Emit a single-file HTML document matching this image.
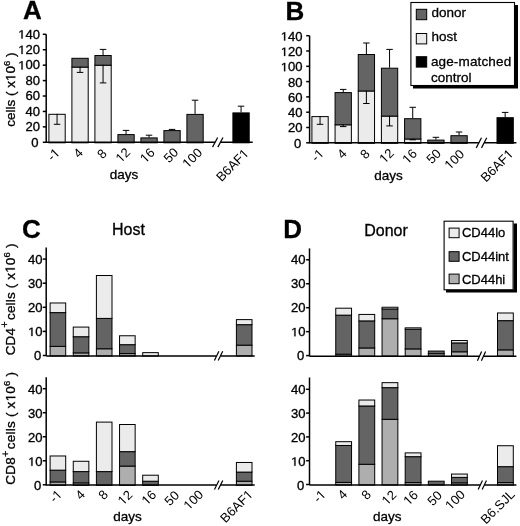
<!DOCTYPE html>
<html><head><meta charset="utf-8"><title>Figure</title>
<style>
html,body{margin:0;padding:0;background:#fff;}
body{width:520px;height:526px;overflow:hidden;}
svg{display:block;font-family:"Liberation Sans", sans-serif;filter:grayscale(1);}
svg text{fill:#000;stroke:#000;stroke-width:0.3px;}
svg tspan.o1{fill:none;stroke:none;}
svg path.p1{fill:#000;stroke:#000;stroke-width:0.3px;vector-effect:non-scaling-stroke;}
svg path.p1n{fill:#000;stroke:none;}
</style></head>
<body>
<svg width="520" height="526" viewBox="0 0 520 526">
<rect x="0" y="0" width="520" height="526" fill="#fff"/>
<text x="23" y="19" font-size="26" text-anchor="start" font-weight="bold">A</text>
<line x1="46.2" y1="34.3" x2="46.2" y2="142.9" stroke="#000" stroke-width="1.5"/>
<line x1="42.8" y1="142.3" x2="46.2" y2="142.3" stroke="#000" stroke-width="1.5"/>
<text transform="translate(38.6 146.6) scale(1.09 1)" x="0" y="0" font-size="12" text-anchor="end">0</text>
<line x1="42.8" y1="126.87" x2="46.2" y2="126.87" stroke="#000" stroke-width="1.5"/>
<text transform="translate(40 131.17) scale(1.09 1)" x="0" y="0" font-size="12" text-anchor="end">20</text>
<line x1="42.8" y1="111.44" x2="46.2" y2="111.44" stroke="#000" stroke-width="1.5"/>
<text transform="translate(40 115.74) scale(1.09 1)" x="0" y="0" font-size="12" text-anchor="end">40</text>
<line x1="42.8" y1="96.01" x2="46.2" y2="96.01" stroke="#000" stroke-width="1.5"/>
<text transform="translate(40 100.31) scale(1.09 1)" x="0" y="0" font-size="12" text-anchor="end">60</text>
<line x1="42.8" y1="80.59" x2="46.2" y2="80.59" stroke="#000" stroke-width="1.5"/>
<text transform="translate(40 84.89) scale(1.09 1)" x="0" y="0" font-size="12" text-anchor="end">80</text>
<line x1="42.8" y1="65.16" x2="46.2" y2="65.16" stroke="#000" stroke-width="1.5"/>
<text transform="translate(40 69.46) scale(1.09 1)" x="0" y="0" font-size="12" text-anchor="end"><tspan class="o1" id="o1_1">1</tspan>00</text><path class="p1" transform="translate(40 69.46) scale(1.09 1) translate(-20.03 0) scale(0.005859 -0.005859)" d="M515 0V1237L197 1010V1180L530 1409H696V0Z"/>
<line x1="42.8" y1="49.73" x2="46.2" y2="49.73" stroke="#000" stroke-width="1.5"/>
<text transform="translate(40 54.03) scale(1.09 1)" x="0" y="0" font-size="12" text-anchor="end"><tspan class="o1" id="o1_2">1</tspan>20</text><path class="p1" transform="translate(40 54.03) scale(1.09 1) translate(-20.03 0) scale(0.005859 -0.005859)" d="M515 0V1237L197 1010V1180L530 1409H696V0Z"/>
<line x1="42.8" y1="34.3" x2="46.2" y2="34.3" stroke="#000" stroke-width="1.5"/>
<text transform="translate(40 38.6) scale(1.09 1)" x="0" y="0" font-size="12" text-anchor="end"><tspan class="o1" id="o1_3">1</tspan>40</text><path class="p1" transform="translate(40 38.6) scale(1.09 1) translate(-20.03 0) scale(0.005859 -0.005859)" d="M515 0V1237L197 1010V1180L530 1409H696V0Z"/>
<rect x="48.9" y="114.3" width="16.3" height="28.5" fill="#ebebeb" stroke="#000" stroke-width="1"/>
<line x1="57.05" y1="113.8" x2="57.05" y2="124.3" stroke="#000" stroke-width="1"/>
<line x1="53.8" y1="124.3" x2="60.3" y2="124.3" stroke="#000" stroke-width="1"/>
<rect x="71.9" y="67.1" width="16.3" height="75.7" fill="#ebebeb" stroke="#000" stroke-width="1"/>
<rect x="71.9" y="58.3" width="16.3" height="8.8" fill="#646464" stroke="#000" stroke-width="1"/>
<line x1="80.05" y1="66.6" x2="80.05" y2="72.4" stroke="#000" stroke-width="1"/>
<line x1="76.8" y1="72.4" x2="83.3" y2="72.4" stroke="#000" stroke-width="1"/>
<rect x="94.9" y="65.2" width="16.3" height="77.6" fill="#ebebeb" stroke="#000" stroke-width="1"/>
<rect x="94.9" y="55.5" width="16.3" height="9.7" fill="#646464" stroke="#000" stroke-width="1"/>
<line x1="103.05" y1="55" x2="103.05" y2="49.4" stroke="#000" stroke-width="1"/>
<line x1="99.8" y1="49.4" x2="106.3" y2="49.4" stroke="#000" stroke-width="1"/>
<line x1="103.05" y1="64.7" x2="103.05" y2="82.9" stroke="#000" stroke-width="1"/>
<line x1="99.8" y1="82.9" x2="106.3" y2="82.9" stroke="#000" stroke-width="1"/>
<rect x="117.9" y="134.6" width="16.3" height="8.2" fill="#646464" stroke="#000" stroke-width="1"/>
<line x1="126.05" y1="134.1" x2="126.05" y2="130.4" stroke="#000" stroke-width="1"/>
<line x1="122.8" y1="130.4" x2="129.3" y2="130.4" stroke="#000" stroke-width="1"/>
<rect x="140.9" y="137.9" width="16.3" height="4.9" fill="#646464" stroke="#000" stroke-width="1"/>
<line x1="149.05" y1="137.4" x2="149.05" y2="135.2" stroke="#000" stroke-width="1"/>
<line x1="145.8" y1="135.2" x2="152.3" y2="135.2" stroke="#000" stroke-width="1"/>
<rect x="163.9" y="130.6" width="16.3" height="12.2" fill="#646464" stroke="#000" stroke-width="1"/>
<line x1="172.05" y1="130.1" x2="172.05" y2="129.4" stroke="#000" stroke-width="1"/>
<line x1="168.8" y1="129.4" x2="175.3" y2="129.4" stroke="#000" stroke-width="1"/>
<rect x="186.9" y="114.4" width="16.3" height="28.4" fill="#646464" stroke="#000" stroke-width="1"/>
<line x1="195.05" y1="113.9" x2="195.05" y2="100.2" stroke="#000" stroke-width="1"/>
<line x1="191.8" y1="100.2" x2="198.3" y2="100.2" stroke="#000" stroke-width="1"/>
<rect x="232.9" y="112.9" width="16.3" height="29.9" fill="#000" stroke="#000" stroke-width="1"/>
<line x1="241.05" y1="112.4" x2="241.05" y2="106.2" stroke="#000" stroke-width="1"/>
<line x1="237.8" y1="106.2" x2="244.3" y2="106.2" stroke="#000" stroke-width="1"/>
<line x1="46.2" y1="142.3" x2="215.1" y2="142.3" stroke="#000" stroke-width="1.5"/>
<line x1="220.4" y1="142.3" x2="252.7" y2="142.3" stroke="#000" stroke-width="1.5"/>
<line x1="212.55" y1="147.15" x2="217.65" y2="137.45" stroke="#000" stroke-width="1.2"/>
<line x1="217.85" y1="147.15" x2="222.95" y2="137.45" stroke="#000" stroke-width="1.2"/>
<text class="lp1" transform="translate(53.35 154.45) rotate(-45)" x="0" y="4.65" font-size="13" text-anchor="middle" style="stroke:none">-<tspan class="o1" id="o1_4">1</tspan></text><path class="p1n" transform="translate(53.35 154.45) rotate(-45) translate(-1.45 4.65) scale(0.006348 -0.006348)" d="M515 0V1237L197 1010V1180L530 1409H696V0Z"/>
<text class="lp0" transform="translate(78.03 152.8) rotate(-45)" x="0" y="4.65" font-size="13" text-anchor="middle" style="stroke:none">4</text>
<text class="lp1" transform="translate(101.75 153.7) rotate(-45)" x="0" y="4.65" font-size="13" text-anchor="middle" style="stroke:none">8</text>
<text class="lp0" transform="translate(122.78 155) rotate(-45)" x="0" y="4.65" font-size="13" text-anchor="middle" style="stroke:none"><tspan class="o1" id="o1_5">1</tspan>2</text><path class="p1n" transform="translate(122.78 155) rotate(-45) translate(-7.23 4.65) scale(0.006348 -0.006348)" d="M515 0V1237L197 1010V1180L530 1409H696V0Z"/>
<text class="lp1" transform="translate(147.2 155.3) rotate(-45)" x="0" y="4.65" font-size="13" text-anchor="middle" style="stroke:none"><tspan class="o1" id="o1_6">1</tspan>6</text><path class="p1n" transform="translate(147.2 155.3) rotate(-45) translate(-7.23 4.65) scale(0.006348 -0.006348)" d="M515 0V1237L197 1010V1180L530 1409H696V0Z"/>
<text class="lp0" transform="translate(170.8 155) rotate(-45)" x="0" y="4.65" font-size="13" text-anchor="middle" style="stroke:none">50</text>
<text class="lp1" transform="translate(192.1 157.8) rotate(-45)" x="0" y="4.65" font-size="13" text-anchor="middle" style="stroke:none"><tspan class="o1" id="o1_7">1</tspan>00</text><path class="p1n" transform="translate(192.1 157.8) rotate(-45) translate(-10.85 4.65) scale(0.006348 -0.006348)" d="M515 0V1237L197 1010V1180L530 1409H696V0Z"/>
<text class="lp0" transform="translate(232.25 164.99) rotate(-45)" x="0" y="4.65" font-size="13" text-anchor="middle" style="stroke:none">B6AF<tspan class="o1" id="o1_8">1</tspan></text><path class="p1n" transform="translate(232.25 164.99) rotate(-45) translate(12.64 4.65) scale(0.006348 -0.006348)" d="M515 0V1237L197 1010V1180L530 1409H696V0Z"/>
<text x="124" y="179.2" font-size="13.5" text-anchor="middle" font-weight="normal">days</text>
<text x="15.3" y="126.8" font-size="13.5" transform="rotate(-90 15.3 126.8)">cells ( x<tspan class="o1" id="o1_9">1</tspan>0<tspan font-size="9.5" dy="-5.2">6</tspan><tspan dy="5.2"> )</tspan></text><path class="p1" transform="rotate(-90 15.3 126.8) translate(61.07 126.8) scale(0.006592 -0.006592)" d="M515 0V1237L197 1010V1180L530 1409H696V0Z"/>
<text x="285.4" y="20" font-size="26" text-anchor="start" font-weight="bold">B</text>
<line x1="309.6" y1="35.7" x2="309.6" y2="143.4" stroke="#000" stroke-width="1.5"/>
<line x1="306.2" y1="142.8" x2="309.6" y2="142.8" stroke="#000" stroke-width="1.5"/>
<text transform="translate(301.2 147.7) scale(1.09 1)" x="0" y="0" font-size="12" text-anchor="end">0</text>
<line x1="306.2" y1="127.5" x2="309.6" y2="127.5" stroke="#000" stroke-width="1.5"/>
<text transform="translate(302.6 132.4) scale(1.09 1)" x="0" y="0" font-size="12" text-anchor="end">20</text>
<line x1="306.2" y1="112.2" x2="309.6" y2="112.2" stroke="#000" stroke-width="1.5"/>
<text transform="translate(302.6 117.1) scale(1.09 1)" x="0" y="0" font-size="12" text-anchor="end">40</text>
<line x1="306.2" y1="96.9" x2="309.6" y2="96.9" stroke="#000" stroke-width="1.5"/>
<text transform="translate(302.6 101.8) scale(1.09 1)" x="0" y="0" font-size="12" text-anchor="end">60</text>
<line x1="306.2" y1="81.6" x2="309.6" y2="81.6" stroke="#000" stroke-width="1.5"/>
<text transform="translate(302.6 86.5) scale(1.09 1)" x="0" y="0" font-size="12" text-anchor="end">80</text>
<line x1="306.2" y1="66.3" x2="309.6" y2="66.3" stroke="#000" stroke-width="1.5"/>
<text transform="translate(302.6 71.2) scale(1.09 1)" x="0" y="0" font-size="12" text-anchor="end"><tspan class="o1" id="o1_10">1</tspan>00</text><path class="p1" transform="translate(302.6 71.2) scale(1.09 1) translate(-20.03 0) scale(0.005859 -0.005859)" d="M515 0V1237L197 1010V1180L530 1409H696V0Z"/>
<line x1="306.2" y1="51" x2="309.6" y2="51" stroke="#000" stroke-width="1.5"/>
<text transform="translate(302.6 55.9) scale(1.09 1)" x="0" y="0" font-size="12" text-anchor="end"><tspan class="o1" id="o1_11">1</tspan>20</text><path class="p1" transform="translate(302.6 55.9) scale(1.09 1) translate(-20.03 0) scale(0.005859 -0.005859)" d="M515 0V1237L197 1010V1180L530 1409H696V0Z"/>
<line x1="306.2" y1="35.7" x2="309.6" y2="35.7" stroke="#000" stroke-width="1.5"/>
<text transform="translate(302.6 40.6) scale(1.09 1)" x="0" y="0" font-size="12" text-anchor="end"><tspan class="o1" id="o1_12">1</tspan>40</text><path class="p1" transform="translate(302.6 40.6) scale(1.09 1) translate(-20.03 0) scale(0.005859 -0.005859)" d="M515 0V1237L197 1010V1180L530 1409H696V0Z"/>
<rect x="311.9" y="116.6" width="16.3" height="26.7" fill="#ebebeb" stroke="#000" stroke-width="1"/>
<line x1="320.05" y1="116.1" x2="320.05" y2="124.3" stroke="#000" stroke-width="1"/>
<line x1="316.8" y1="124.3" x2="323.3" y2="124.3" stroke="#000" stroke-width="1"/>
<rect x="335.07" y="124.8" width="16.3" height="18.5" fill="#ebebeb" stroke="#000" stroke-width="1"/>
<rect x="335.07" y="92.6" width="16.3" height="32.2" fill="#646464" stroke="#000" stroke-width="1"/>
<line x1="343.22" y1="92.1" x2="343.22" y2="89.4" stroke="#000" stroke-width="1"/>
<line x1="339.97" y1="89.4" x2="346.47" y2="89.4" stroke="#000" stroke-width="1"/>
<line x1="343.22" y1="124.3" x2="343.22" y2="126.6" stroke="#000" stroke-width="1"/>
<line x1="339.97" y1="126.6" x2="346.47" y2="126.6" stroke="#000" stroke-width="1"/>
<rect x="358.24" y="91" width="16.3" height="52.3" fill="#ebebeb" stroke="#000" stroke-width="1"/>
<rect x="358.24" y="54.5" width="16.3" height="36.5" fill="#646464" stroke="#000" stroke-width="1"/>
<line x1="366.39" y1="54" x2="366.39" y2="43" stroke="#000" stroke-width="1"/>
<line x1="363.14" y1="43" x2="369.64" y2="43" stroke="#000" stroke-width="1"/>
<line x1="366.39" y1="90.5" x2="366.39" y2="103.5" stroke="#000" stroke-width="1"/>
<line x1="363.14" y1="103.5" x2="369.64" y2="103.5" stroke="#000" stroke-width="1"/>
<rect x="381.41" y="116.1" width="16.3" height="27.2" fill="#ebebeb" stroke="#000" stroke-width="1"/>
<rect x="381.41" y="68.2" width="16.3" height="47.9" fill="#646464" stroke="#000" stroke-width="1"/>
<line x1="389.56" y1="67.7" x2="389.56" y2="49.4" stroke="#000" stroke-width="1"/>
<line x1="386.31" y1="49.4" x2="392.81" y2="49.4" stroke="#000" stroke-width="1"/>
<line x1="389.56" y1="115.6" x2="389.56" y2="125.9" stroke="#000" stroke-width="1"/>
<line x1="386.31" y1="125.9" x2="392.81" y2="125.9" stroke="#000" stroke-width="1"/>
<rect x="404.58" y="139" width="16.3" height="4.3" fill="#ebebeb" stroke="#000" stroke-width="1"/>
<rect x="404.58" y="118.7" width="16.3" height="20.3" fill="#646464" stroke="#000" stroke-width="1"/>
<line x1="412.73" y1="118.2" x2="412.73" y2="107.3" stroke="#000" stroke-width="1"/>
<line x1="409.48" y1="107.3" x2="415.98" y2="107.3" stroke="#000" stroke-width="1"/>
<line x1="412.73" y1="138.5" x2="412.73" y2="139.8" stroke="#000" stroke-width="1"/>
<line x1="409.48" y1="139.8" x2="415.98" y2="139.8" stroke="#000" stroke-width="1"/>
<rect x="427.75" y="140.1" width="16.3" height="3.2" fill="#646464" stroke="#000" stroke-width="1"/>
<line x1="435.9" y1="139.6" x2="435.9" y2="137.3" stroke="#000" stroke-width="1"/>
<line x1="432.65" y1="137.3" x2="439.15" y2="137.3" stroke="#000" stroke-width="1"/>
<rect x="450.92" y="135.7" width="16.3" height="7.6" fill="#646464" stroke="#000" stroke-width="1"/>
<line x1="459.07" y1="135.2" x2="459.07" y2="132" stroke="#000" stroke-width="1"/>
<line x1="455.82" y1="132" x2="462.32" y2="132" stroke="#000" stroke-width="1"/>
<rect x="497" y="117.7" width="16.3" height="25.6" fill="#000" stroke="#000" stroke-width="1"/>
<line x1="505.15" y1="117.2" x2="505.15" y2="112.4" stroke="#000" stroke-width="1"/>
<line x1="501.9" y1="112.4" x2="508.4" y2="112.4" stroke="#000" stroke-width="1"/>
<line x1="309.6" y1="142.8" x2="478.88" y2="142.8" stroke="#000" stroke-width="1.5"/>
<line x1="484.12" y1="142.8" x2="516.4" y2="142.8" stroke="#000" stroke-width="1.5"/>
<line x1="476.25" y1="147.85" x2="481.5" y2="137.75" stroke="#000" stroke-width="1.2"/>
<line x1="481.5" y1="147.85" x2="486.75" y2="137.75" stroke="#000" stroke-width="1.2"/>
<text class="lp1" transform="translate(317.35 155.05) rotate(-45)" x="0" y="4.65" font-size="13" text-anchor="middle" style="stroke:none">-<tspan class="o1" id="o1_13">1</tspan></text><path class="p1n" transform="translate(317.35 155.05) rotate(-45) translate(-1.45 4.65) scale(0.006348 -0.006348)" d="M515 0V1237L197 1010V1180L530 1409H696V0Z"/>
<text class="lp0" transform="translate(341.75 153.55) rotate(-45)" x="0" y="4.65" font-size="13" text-anchor="middle" style="stroke:none">4</text>
<text class="lp1" transform="translate(364.75 153.8) rotate(-45)" x="0" y="4.65" font-size="13" text-anchor="middle" style="stroke:none">8</text>
<text class="lp0" transform="translate(386.45 155.6) rotate(-45)" x="0" y="4.65" font-size="13" text-anchor="middle" style="stroke:none"><tspan class="o1" id="o1_14">1</tspan>2</text><path class="p1n" transform="translate(386.45 155.6) rotate(-45) translate(-7.23 4.65) scale(0.006348 -0.006348)" d="M515 0V1237L197 1010V1180L530 1409H696V0Z"/>
<text class="lp1" transform="translate(409.5 156.3) rotate(-45)" x="0" y="4.65" font-size="13" text-anchor="middle" style="stroke:none"><tspan class="o1" id="o1_15">1</tspan>6</text><path class="p1n" transform="translate(409.5 156.3) rotate(-45) translate(-7.23 4.65) scale(0.006348 -0.006348)" d="M515 0V1237L197 1010V1180L530 1409H696V0Z"/>
<text class="lp0" transform="translate(433.5 156.15) rotate(-45)" x="0" y="4.65" font-size="13" text-anchor="middle" style="stroke:none">50</text>
<text class="lp1" transform="translate(454.2 159.3) rotate(-45)" x="0" y="4.65" font-size="13" text-anchor="middle" style="stroke:none"><tspan class="o1" id="o1_16">1</tspan>00</text><path class="p1n" transform="translate(454.2 159.3) rotate(-45) translate(-10.85 4.65) scale(0.006348 -0.006348)" d="M515 0V1237L197 1010V1180L530 1409H696V0Z"/>
<text class="lp0" transform="translate(496.77 165.42) rotate(-45)" x="0" y="4.65" font-size="13" text-anchor="middle" style="stroke:none">B6AF<tspan class="o1" id="o1_17">1</tspan></text><path class="p1n" transform="translate(496.77 165.42) rotate(-45) translate(12.64 4.65) scale(0.006348 -0.006348)" d="M515 0V1237L197 1010V1180L530 1409H696V0Z"/>
<text x="388.5" y="180.4" font-size="13.5" text-anchor="middle" font-weight="normal">days</text>
<rect x="410.9" y="2.5" width="103.6" height="83" fill="#fff" stroke="#000" stroke-width="1.1"/>
<path d="M515 5 h3 v83.5 h-105 v-3 h102 z" fill="#000"/>
<rect x="416.3" y="9.3" width="10.4" height="10.4" fill="#646464" stroke="#000" stroke-width="1"/>
<rect x="416.3" y="33.5" width="10.4" height="10.4" fill="#ebebeb" stroke="#000" stroke-width="1"/>
<rect x="416.3" y="56.7" width="10.4" height="10.4" fill="#000" stroke="#000" stroke-width="1"/>
<text x="431.4" y="16.9" font-size="13.5" text-anchor="start" font-weight="normal">donor</text>
<text x="431.4" y="41.2" font-size="13.5" text-anchor="start" font-weight="normal">host</text>
<text x="430.9" y="65.5" font-size="13.5" text-anchor="start" font-weight="normal" letter-spacing="0.15">age-matched</text>
<text x="430.9" y="81.8" font-size="13.5" text-anchor="start" font-weight="normal">control</text>
<text x="22" y="237.8" font-size="26" text-anchor="start" font-weight="bold">C</text>
<text x="128.4" y="235" font-size="16" text-anchor="middle" font-weight="normal">Host</text>
<line x1="46.2" y1="247.4" x2="46.2" y2="356.1" stroke="#000" stroke-width="1.5"/>
<line x1="42.8" y1="355.5" x2="46.2" y2="355.5" stroke="#000" stroke-width="1.5"/>
<text transform="translate(41.2 360.1) scale(1.09 1)" x="0" y="0" font-size="12" text-anchor="end">0</text>
<line x1="42.8" y1="331.4" x2="46.2" y2="331.4" stroke="#000" stroke-width="1.5"/>
<text transform="translate(42.6 336) scale(1.09 1)" x="0" y="0" font-size="12" text-anchor="end"><tspan class="o1" id="o1_18">1</tspan>0</text><path class="p1" transform="translate(42.6 336) scale(1.09 1) translate(-13.35 0) scale(0.005859 -0.005859)" d="M515 0V1237L197 1010V1180L530 1409H696V0Z"/>
<line x1="42.8" y1="307.3" x2="46.2" y2="307.3" stroke="#000" stroke-width="1.5"/>
<text transform="translate(42.6 311.9) scale(1.09 1)" x="0" y="0" font-size="12" text-anchor="end">20</text>
<line x1="42.8" y1="283.2" x2="46.2" y2="283.2" stroke="#000" stroke-width="1.5"/>
<text transform="translate(42.6 287.8) scale(1.09 1)" x="0" y="0" font-size="12" text-anchor="end">30</text>
<line x1="42.8" y1="259.1" x2="46.2" y2="259.1" stroke="#000" stroke-width="1.5"/>
<text transform="translate(42.6 263.7) scale(1.09 1)" x="0" y="0" font-size="12" text-anchor="end">40</text>
<rect x="50.1" y="346.36" width="15.6" height="9.64" fill="#aeaeae" stroke="#000" stroke-width="1"/>
<rect x="50.1" y="312.62" width="15.6" height="33.74" fill="#646464" stroke="#000" stroke-width="1"/>
<rect x="50.1" y="302.98" width="15.6" height="9.64" fill="#ebebeb" stroke="#000" stroke-width="1"/>
<rect x="73.25" y="352.87" width="15.6" height="3.13" fill="#aeaeae" stroke="#000" stroke-width="1"/>
<rect x="73.25" y="336.72" width="15.6" height="16.15" fill="#646464" stroke="#000" stroke-width="1"/>
<rect x="73.25" y="327.08" width="15.6" height="9.64" fill="#ebebeb" stroke="#000" stroke-width="1"/>
<rect x="96.4" y="348.77" width="15.6" height="7.23" fill="#aeaeae" stroke="#000" stroke-width="1"/>
<rect x="96.4" y="318.4" width="15.6" height="30.37" fill="#646464" stroke="#000" stroke-width="1"/>
<rect x="96.4" y="275.51" width="15.6" height="42.9" fill="#ebebeb" stroke="#000" stroke-width="1"/>
<rect x="119.55" y="353.59" width="15.6" height="2.41" fill="#aeaeae" stroke="#000" stroke-width="1"/>
<rect x="119.55" y="344.67" width="15.6" height="8.92" fill="#646464" stroke="#000" stroke-width="1"/>
<rect x="119.55" y="335.76" width="15.6" height="8.92" fill="#ebebeb" stroke="#000" stroke-width="1"/>
<rect x="142.7" y="352.63" width="15.6" height="3.37" fill="#ebebeb" stroke="#000" stroke-width="1"/>
<rect x="236.4" y="345.15" width="15.6" height="10.85" fill="#aeaeae" stroke="#000" stroke-width="1"/>
<rect x="236.4" y="324.67" width="15.6" height="20.48" fill="#646464" stroke="#000" stroke-width="1"/>
<rect x="236.4" y="319.61" width="15.6" height="5.06" fill="#ebebeb" stroke="#000" stroke-width="1"/>
<line x1="46.2" y1="355.9" x2="216.65" y2="355.9" stroke="#000" stroke-width="1.5"/>
<line x1="220.45" y1="355.9" x2="254.7" y2="355.9" stroke="#000" stroke-width="1.5"/>
<line x1="214.4" y1="360.45" x2="218.9" y2="351.35" stroke="#000" stroke-width="1.2"/>
<line x1="218.2" y1="360.45" x2="222.7" y2="351.35" stroke="#000" stroke-width="1.2"/>
<text x="14.8" y="355.3" font-size="13.5" letter-spacing="0.16" transform="rotate(-90 14.8 355.3)">CD4<tspan font-size="11" dy="-6.5">+</tspan><tspan dy="6.5" dx="1.2">cells ( x<tspan class="o1" id="o1_19">1</tspan>0</tspan><tspan font-size="9.5" dy="-5.2">6</tspan><tspan dy="5.2"> )</tspan></text><path class="p1" transform="rotate(-90 14.8 355.3) translate(97.3 355.3) scale(0.006592 -0.006592)" d="M515 0V1237L197 1010V1180L530 1409H696V0Z"/>
<line x1="46.2" y1="377.3" x2="46.2" y2="485.4" stroke="#000" stroke-width="1.5"/>
<line x1="42.8" y1="484.8" x2="46.2" y2="484.8" stroke="#000" stroke-width="1.5"/>
<text transform="translate(41.2 489.9) scale(1.09 1)" x="0" y="0" font-size="12" text-anchor="end">0</text>
<line x1="42.8" y1="460.77" x2="46.2" y2="460.77" stroke="#000" stroke-width="1.5"/>
<text transform="translate(42.6 465.87) scale(1.09 1)" x="0" y="0" font-size="12" text-anchor="end"><tspan class="o1" id="o1_20">1</tspan>0</text><path class="p1" transform="translate(42.6 465.87) scale(1.09 1) translate(-13.35 0) scale(0.005859 -0.005859)" d="M515 0V1237L197 1010V1180L530 1409H696V0Z"/>
<line x1="42.8" y1="436.74" x2="46.2" y2="436.74" stroke="#000" stroke-width="1.5"/>
<text transform="translate(42.6 441.84) scale(1.09 1)" x="0" y="0" font-size="12" text-anchor="end">20</text>
<line x1="42.8" y1="412.71" x2="46.2" y2="412.71" stroke="#000" stroke-width="1.5"/>
<text transform="translate(42.6 417.81) scale(1.09 1)" x="0" y="0" font-size="12" text-anchor="end">30</text>
<line x1="42.8" y1="388.68" x2="46.2" y2="388.68" stroke="#000" stroke-width="1.5"/>
<text transform="translate(42.6 393.78) scale(1.09 1)" x="0" y="0" font-size="12" text-anchor="end">40</text>
<rect x="50.1" y="481.94" width="15.6" height="3.36" fill="#aeaeae" stroke="#000" stroke-width="1"/>
<rect x="50.1" y="470.16" width="15.6" height="11.77" fill="#646464" stroke="#000" stroke-width="1"/>
<rect x="50.1" y="455.98" width="15.6" height="14.18" fill="#ebebeb" stroke="#000" stroke-width="1"/>
<rect x="73.25" y="482.9" width="15.6" height="2.4" fill="#aeaeae" stroke="#000" stroke-width="1"/>
<rect x="73.25" y="471.6" width="15.6" height="11.29" fill="#646464" stroke="#000" stroke-width="1"/>
<rect x="73.25" y="461.27" width="15.6" height="10.33" fill="#ebebeb" stroke="#000" stroke-width="1"/>
<rect x="96.4" y="471.6" width="15.6" height="13.7" fill="#646464" stroke="#000" stroke-width="1"/>
<rect x="96.4" y="422.1" width="15.6" height="49.5" fill="#ebebeb" stroke="#000" stroke-width="1"/>
<rect x="119.55" y="466.08" width="15.6" height="19.22" fill="#aeaeae" stroke="#000" stroke-width="1"/>
<rect x="119.55" y="451.66" width="15.6" height="14.42" fill="#646464" stroke="#000" stroke-width="1"/>
<rect x="119.55" y="424.5" width="15.6" height="27.15" fill="#ebebeb" stroke="#000" stroke-width="1"/>
<rect x="142.7" y="481.21" width="15.6" height="4.09" fill="#646464" stroke="#000" stroke-width="1"/>
<rect x="142.7" y="475.21" width="15.6" height="6.01" fill="#ebebeb" stroke="#000" stroke-width="1"/>
<rect x="236.4" y="481.21" width="15.6" height="4.09" fill="#aeaeae" stroke="#000" stroke-width="1"/>
<rect x="236.4" y="472.08" width="15.6" height="9.13" fill="#646464" stroke="#000" stroke-width="1"/>
<rect x="236.4" y="462.47" width="15.6" height="9.61" fill="#ebebeb" stroke="#000" stroke-width="1"/>
<line x1="46.2" y1="485" x2="216.7" y2="485" stroke="#000" stroke-width="1.5"/>
<line x1="220.5" y1="485" x2="254.7" y2="485" stroke="#000" stroke-width="1.5"/>
<line x1="214.45" y1="489.6" x2="218.95" y2="480.4" stroke="#000" stroke-width="1.2"/>
<line x1="218.25" y1="489.6" x2="222.75" y2="480.4" stroke="#000" stroke-width="1.2"/>
<text class="lp1" transform="translate(55.5 496.1) rotate(-45)" x="0" y="4.65" font-size="13" text-anchor="middle" style="stroke:none">-<tspan class="o1" id="o1_21">1</tspan></text><path class="p1n" transform="translate(55.5 496.1) rotate(-45) translate(-1.45 4.65) scale(0.006348 -0.006348)" d="M515 0V1237L197 1010V1180L530 1409H696V0Z"/>
<text class="lp0" transform="translate(80 494.55) rotate(-45)" x="0" y="4.65" font-size="13" text-anchor="middle" style="stroke:none">4</text>
<text class="lp1" transform="translate(102.99 494.65) rotate(-45)" x="0" y="4.65" font-size="13" text-anchor="middle" style="stroke:none">8</text>
<text class="lp0" transform="translate(124.87 497.5) rotate(-45)" x="0" y="4.65" font-size="13" text-anchor="middle" style="stroke:none"><tspan class="o1" id="o1_22">1</tspan>2</text><path class="p1n" transform="translate(124.87 497.5) rotate(-45) translate(-7.23 4.65) scale(0.006348 -0.006348)" d="M515 0V1237L197 1010V1180L530 1409H696V0Z"/>
<text class="lp1" transform="translate(148.75 497.4) rotate(-45)" x="0" y="4.65" font-size="13" text-anchor="middle" style="stroke:none"><tspan class="o1" id="o1_23">1</tspan>6</text><path class="p1n" transform="translate(148.75 497.4) rotate(-45) translate(-7.23 4.65) scale(0.006348 -0.006348)" d="M515 0V1237L197 1010V1180L530 1409H696V0Z"/>
<text class="lp0" transform="translate(171.6 498) rotate(-45)" x="0" y="4.65" font-size="13" text-anchor="middle" style="stroke:none">50</text>
<text class="lp1" transform="translate(193.25 499.65) rotate(-45)" x="0" y="4.65" font-size="13" text-anchor="middle" style="stroke:none"><tspan class="o1" id="o1_24">1</tspan>00</text><path class="p1n" transform="translate(193.25 499.65) rotate(-45) translate(-10.85 4.65) scale(0.006348 -0.006348)" d="M515 0V1237L197 1010V1180L530 1409H696V0Z"/>
<text class="lp0" transform="translate(236.37 506.05) rotate(-45)" x="0" y="4.65" font-size="13" text-anchor="middle" style="stroke:none">B6AF<tspan class="o1" id="o1_25">1</tspan></text><path class="p1n" transform="translate(236.37 506.05) rotate(-45) translate(12.64 4.65) scale(0.006348 -0.006348)" d="M515 0V1237L197 1010V1180L530 1409H696V0Z"/>
<text x="127.5" y="520.7" font-size="13.5" text-anchor="middle" font-weight="normal">days</text>
<text x="15.3" y="484.8" font-size="13.5" letter-spacing="0.23" transform="rotate(-90 15.3 484.8)">CD8<tspan font-size="11" dy="-6.5">+</tspan><tspan dy="6.5" dx="1.2">cells ( x<tspan class="o1" id="o1_26">1</tspan>0</tspan><tspan font-size="9.5" dy="-5.2">6</tspan><tspan dy="5.2"> )</tspan></text><path class="p1" transform="rotate(-90 15.3 484.8) translate(98.69 484.8) scale(0.006592 -0.006592)" d="M515 0V1237L197 1010V1180L530 1409H696V0Z"/>
<text x="283.2" y="237.7" font-size="26" text-anchor="start" font-weight="bold">D</text>
<text x="386" y="235.8" font-size="16" text-anchor="middle" font-weight="normal">Donor</text>
<line x1="309.5" y1="248.4" x2="309.5" y2="356.2" stroke="#000" stroke-width="1.5"/>
<line x1="306.1" y1="355.6" x2="309.5" y2="355.6" stroke="#000" stroke-width="1.5"/>
<text transform="translate(304.2 360.2) scale(1.09 1)" x="0" y="0" font-size="12" text-anchor="end">0</text>
<line x1="306.1" y1="331.65" x2="309.5" y2="331.65" stroke="#000" stroke-width="1.5"/>
<text transform="translate(305.6 336.25) scale(1.09 1)" x="0" y="0" font-size="12" text-anchor="end"><tspan class="o1" id="o1_27">1</tspan>0</text><path class="p1" transform="translate(305.6 336.25) scale(1.09 1) translate(-13.35 0) scale(0.005859 -0.005859)" d="M515 0V1237L197 1010V1180L530 1409H696V0Z"/>
<line x1="306.1" y1="307.7" x2="309.5" y2="307.7" stroke="#000" stroke-width="1.5"/>
<text transform="translate(305.6 312.3) scale(1.09 1)" x="0" y="0" font-size="12" text-anchor="end">20</text>
<line x1="306.1" y1="283.75" x2="309.5" y2="283.75" stroke="#000" stroke-width="1.5"/>
<text transform="translate(305.6 288.35) scale(1.09 1)" x="0" y="0" font-size="12" text-anchor="end">30</text>
<line x1="306.1" y1="259.8" x2="309.5" y2="259.8" stroke="#000" stroke-width="1.5"/>
<text transform="translate(305.6 264.4) scale(1.09 1)" x="0" y="0" font-size="12" text-anchor="end">40</text>
<rect x="335.75" y="354.18" width="15.8" height="1.92" fill="#aeaeae" stroke="#000" stroke-width="1"/>
<rect x="335.75" y="315.15" width="15.8" height="39.04" fill="#646464" stroke="#000" stroke-width="1"/>
<rect x="335.75" y="308.2" width="15.8" height="6.95" fill="#ebebeb" stroke="#000" stroke-width="1"/>
<rect x="358.9" y="347.96" width="15.8" height="8.14" fill="#aeaeae" stroke="#000" stroke-width="1"/>
<rect x="358.9" y="320.89" width="15.8" height="27.06" fill="#646464" stroke="#000" stroke-width="1"/>
<rect x="358.9" y="314.43" width="15.8" height="6.47" fill="#ebebeb" stroke="#000" stroke-width="1"/>
<rect x="382.05" y="318.74" width="15.8" height="37.36" fill="#aeaeae" stroke="#000" stroke-width="1"/>
<rect x="382.05" y="308.92" width="15.8" height="9.82" fill="#646464" stroke="#000" stroke-width="1"/>
<rect x="382.05" y="307.24" width="15.8" height="1.68" fill="#ebebeb" stroke="#000" stroke-width="1"/>
<rect x="405.2" y="348.92" width="15.8" height="7.19" fill="#aeaeae" stroke="#000" stroke-width="1"/>
<rect x="405.2" y="329.28" width="15.8" height="19.64" fill="#646464" stroke="#000" stroke-width="1"/>
<rect x="405.2" y="327.84" width="15.8" height="1.44" fill="#ebebeb" stroke="#000" stroke-width="1"/>
<rect x="428.35" y="353.71" width="15.8" height="2.39" fill="#aeaeae" stroke="#000" stroke-width="1"/>
<rect x="428.35" y="351.07" width="15.8" height="2.63" fill="#646464" stroke="#000" stroke-width="1"/>
<rect x="451.5" y="351.79" width="15.8" height="4.31" fill="#aeaeae" stroke="#000" stroke-width="1"/>
<rect x="451.5" y="342.93" width="15.8" height="8.86" fill="#646464" stroke="#000" stroke-width="1"/>
<rect x="451.5" y="340.53" width="15.8" height="2.39" fill="#ebebeb" stroke="#000" stroke-width="1"/>
<rect x="497.5" y="349.87" width="15.8" height="6.23" fill="#aeaeae" stroke="#000" stroke-width="1"/>
<rect x="497.5" y="320.65" width="15.8" height="29.22" fill="#646464" stroke="#000" stroke-width="1"/>
<rect x="497.5" y="312.99" width="15.8" height="7.66" fill="#ebebeb" stroke="#000" stroke-width="1"/>
<line x1="309.5" y1="356.2" x2="479.5" y2="356.2" stroke="#000" stroke-width="1.5"/>
<line x1="483.5" y1="356.2" x2="516.4" y2="356.2" stroke="#000" stroke-width="1.5"/>
<line x1="477.4" y1="360.85" x2="481.6" y2="351.55" stroke="#000" stroke-width="1.2"/>
<line x1="481.4" y1="360.85" x2="485.6" y2="351.55" stroke="#000" stroke-width="1.2"/>
<rect x="444.1" y="221.2" width="69" height="68.6" fill="#fff" stroke="#000" stroke-width="1.1"/>
<path d="M513.6 223.5 h3.4 v69 h-71 v-2.7 h67.6 z" fill="#000"/>
<rect x="449.1" y="228.1" width="10" height="9.6" fill="#ebebeb" stroke="#000" stroke-width="1"/>
<rect x="449.1" y="251.7" width="10" height="9.6" fill="#646464" stroke="#000" stroke-width="1"/>
<rect x="449.1" y="274.1" width="10" height="9.6" fill="#aeaeae" stroke="#000" stroke-width="1"/>
<text x="461.9" y="237.2" font-size="13" text-anchor="start" font-weight="normal">CD44lo</text>
<text x="461.9" y="260.5" font-size="13" text-anchor="start" font-weight="normal">CD44int</text>
<text x="461.9" y="283.6" font-size="13" text-anchor="start" font-weight="normal">CD44hi</text>
<line x1="309.5" y1="377.5" x2="309.5" y2="485.1" stroke="#000" stroke-width="1.5"/>
<line x1="306.1" y1="484.5" x2="309.5" y2="484.5" stroke="#000" stroke-width="1.5"/>
<text transform="translate(304.2 489.5) scale(1.09 1)" x="0" y="0" font-size="12" text-anchor="end">0</text>
<line x1="306.1" y1="460.7" x2="309.5" y2="460.7" stroke="#000" stroke-width="1.5"/>
<text transform="translate(305.6 465.7) scale(1.09 1)" x="0" y="0" font-size="12" text-anchor="end"><tspan class="o1" id="o1_28">1</tspan>0</text><path class="p1" transform="translate(305.6 465.7) scale(1.09 1) translate(-13.35 0) scale(0.005859 -0.005859)" d="M515 0V1237L197 1010V1180L530 1409H696V0Z"/>
<line x1="306.1" y1="436.9" x2="309.5" y2="436.9" stroke="#000" stroke-width="1.5"/>
<text transform="translate(305.6 441.9) scale(1.09 1)" x="0" y="0" font-size="12" text-anchor="end">20</text>
<line x1="306.1" y1="413.1" x2="309.5" y2="413.1" stroke="#000" stroke-width="1.5"/>
<text transform="translate(305.6 418.1) scale(1.09 1)" x="0" y="0" font-size="12" text-anchor="end">30</text>
<line x1="306.1" y1="389.3" x2="309.5" y2="389.3" stroke="#000" stroke-width="1.5"/>
<text transform="translate(305.6 394.3) scale(1.09 1)" x="0" y="0" font-size="12" text-anchor="end">40</text>
<rect x="335.75" y="482.38" width="15.8" height="2.62" fill="#aeaeae" stroke="#000" stroke-width="1"/>
<rect x="335.75" y="445.49" width="15.8" height="36.89" fill="#646464" stroke="#000" stroke-width="1"/>
<rect x="335.75" y="441.68" width="15.8" height="3.81" fill="#ebebeb" stroke="#000" stroke-width="1"/>
<rect x="358.9" y="464.29" width="15.8" height="20.71" fill="#aeaeae" stroke="#000" stroke-width="1"/>
<rect x="358.9" y="405.98" width="15.8" height="58.31" fill="#646464" stroke="#000" stroke-width="1"/>
<rect x="358.9" y="400.03" width="15.8" height="5.95" fill="#ebebeb" stroke="#000" stroke-width="1"/>
<rect x="382.05" y="419.31" width="15.8" height="65.69" fill="#aeaeae" stroke="#000" stroke-width="1"/>
<rect x="382.05" y="387.66" width="15.8" height="31.65" fill="#646464" stroke="#000" stroke-width="1"/>
<rect x="382.05" y="382.66" width="15.8" height="5" fill="#ebebeb" stroke="#000" stroke-width="1"/>
<rect x="405.2" y="482.62" width="15.8" height="2.38" fill="#aeaeae" stroke="#000" stroke-width="1"/>
<rect x="405.2" y="456.68" width="15.8" height="25.94" fill="#646464" stroke="#000" stroke-width="1"/>
<rect x="405.2" y="452.87" width="15.8" height="3.81" fill="#ebebeb" stroke="#000" stroke-width="1"/>
<rect x="428.35" y="481.19" width="15.8" height="3.81" fill="#646464" stroke="#000" stroke-width="1"/>
<rect x="451.5" y="482.86" width="15.8" height="2.14" fill="#aeaeae" stroke="#000" stroke-width="1"/>
<rect x="451.5" y="477.38" width="15.8" height="5.47" fill="#646464" stroke="#000" stroke-width="1"/>
<rect x="451.5" y="474.05" width="15.8" height="3.33" fill="#ebebeb" stroke="#000" stroke-width="1"/>
<rect x="497.5" y="482.62" width="15.8" height="2.38" fill="#aeaeae" stroke="#000" stroke-width="1"/>
<rect x="497.5" y="466.67" width="15.8" height="15.95" fill="#646464" stroke="#000" stroke-width="1"/>
<rect x="497.5" y="445.73" width="15.8" height="20.94" fill="#ebebeb" stroke="#000" stroke-width="1"/>
<line x1="309.5" y1="485" x2="480.3" y2="485" stroke="#000" stroke-width="1.5"/>
<line x1="484.3" y1="485" x2="516.4" y2="485" stroke="#000" stroke-width="1.5"/>
<line x1="478.15" y1="489.45" x2="482.45" y2="480.55" stroke="#000" stroke-width="1.2"/>
<line x1="482.15" y1="489.45" x2="486.45" y2="480.55" stroke="#000" stroke-width="1.2"/>
<text class="lp1" transform="translate(319.25 496.1) rotate(-45)" x="0" y="4.65" font-size="13" text-anchor="middle" style="stroke:none">-<tspan class="o1" id="o1_29">1</tspan></text><path class="p1n" transform="translate(319.25 496.1) rotate(-45) translate(-1.45 4.65) scale(0.006348 -0.006348)" d="M515 0V1237L197 1010V1180L530 1409H696V0Z"/>
<text class="lp0" transform="translate(342.3 494.3) rotate(-45)" x="0" y="4.65" font-size="13" text-anchor="middle" style="stroke:none">4</text>
<text class="lp1" transform="translate(365.99 494.65) rotate(-45)" x="0" y="4.65" font-size="13" text-anchor="middle" style="stroke:none">8</text>
<text class="lp0" transform="translate(388.85 497.5) rotate(-45)" x="0" y="4.65" font-size="13" text-anchor="middle" style="stroke:none"><tspan class="o1" id="o1_30">1</tspan>2</text><path class="p1n" transform="translate(388.85 497.5) rotate(-45) translate(-7.23 4.65) scale(0.006348 -0.006348)" d="M515 0V1237L197 1010V1180L530 1409H696V0Z"/>
<text class="lp1" transform="translate(410.5 497.65) rotate(-45)" x="0" y="4.65" font-size="13" text-anchor="middle" style="stroke:none"><tspan class="o1" id="o1_31">1</tspan>6</text><path class="p1n" transform="translate(410.5 497.65) rotate(-45) translate(-7.23 4.65) scale(0.006348 -0.006348)" d="M515 0V1237L197 1010V1180L530 1409H696V0Z"/>
<text class="lp0" transform="translate(434.5 498) rotate(-45)" x="0" y="4.65" font-size="13" text-anchor="middle" style="stroke:none">50</text>
<text class="lp1" transform="translate(454.9 499.65) rotate(-45)" x="0" y="4.65" font-size="13" text-anchor="middle" style="stroke:none"><tspan class="o1" id="o1_32">1</tspan>00</text><path class="p1n" transform="translate(454.9 499.65) rotate(-45) translate(-10.85 4.65) scale(0.006348 -0.006348)" d="M515 0V1237L197 1010V1180L530 1409H696V0Z"/>
<text class="lp0" transform="translate(497.5 506.6) rotate(-45)" x="0" y="4.65" font-size="13" text-anchor="middle" style="stroke:none">B6.SJL</text>
<text x="387.3" y="520.7" font-size="13.5" text-anchor="middle" font-weight="normal">days</text>
</svg>
</body></html>
